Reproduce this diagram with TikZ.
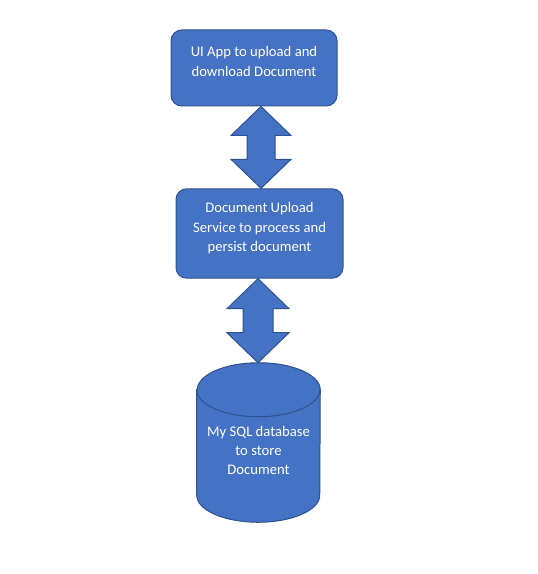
\documentclass[tikz,border=0pt]{standalone}
\usepackage{fontspec}
\setmainfont{Carlito}
\usetikzlibrary{calc}
\definecolor{officeblue}{HTML}{4472C4}
\definecolor{officeedge}{HTML}{2F528F}
\tikzset{
  boxtext/.style={align=center, text=white, font=\fontsize{11}{14.5}\selectfont},
  procbox/.style={boxtext, draw=officeedge, fill=officeblue, line width=0.75pt, rounded corners=8pt},
  shapefill/.style={draw=officeedge, fill=officeblue, line width=0.75pt, line join=miter}
}
% two-headed block arrow: from, to, axis x, head half width, shaft half width, head length
\newcommand{\twowayarrow}[6]{%
  \coordinate (tp) at (#1.south -| #3,0);
  \coordinate (bt) at (#2.north -| #3,0);
  \filldraw[shapefill] (tp) -- ($(tp)+(#4,#6)$) -- ($(tp)+(#5,#6)$) -- ($(bt)+(#5,-#6)$)
    -- ($(bt)+(#4,-#6)$) -- (bt) -- ($(bt)+(-#4,-#6)$) -- ($(bt)+(-#5,-#6)$)
    -- ($(tp)+(-#5,#6)$) -- ($(tp)+(-#4,#6)$) -- cycle;}
\begin{document}
\begin{tikzpicture}[x=0.75pt, y=-0.75pt]
\useasboundingbox (0,0) rectangle (538,574);
\node[procbox, minimum width=124.5pt, minimum height=57pt] (ui) at (254,68) {UI App to upload and\\download Document\\[-4.5pt]\mbox{}};
\node[procbox, minimum width=125.25pt, minimum height=67pt] (svc) at (259.5,233.5) {Document Upload\\Service to process and\\persist document\\[-5pt]\mbox{}};
\node[boxtext, minimum width=92.25pt, minimum height=119.25pt, inner sep=0pt] (db) at (258.5,442.5) {};
% database cylinder
\filldraw[shapefill] ($(db.north west)+(0,27)$) -- ($(db.south west)+(0,-27)$)
  arc[start angle=180, end angle=0, x radius=61.5, y radius=27]
  -- ($(db.north east)+(0,27)$)
  arc[start angle=0, end angle=-180, x radius=61.5, y radius=27] -- cycle;
\draw[shapefill, fill=none] ($(db.north west)+(0,27)$) arc[start angle=180, end angle=0, x radius=61.5, y radius=27];
\node[boxtext] at ($(db.center)+(0,8)$) {My SQL database\\to store\\Document};
\twowayarrow{ui}{svc}{261}{30}{14}{29}
\twowayarrow{svc}{db}{258}{31}{15}{30}
\end{tikzpicture}
\end{document}
